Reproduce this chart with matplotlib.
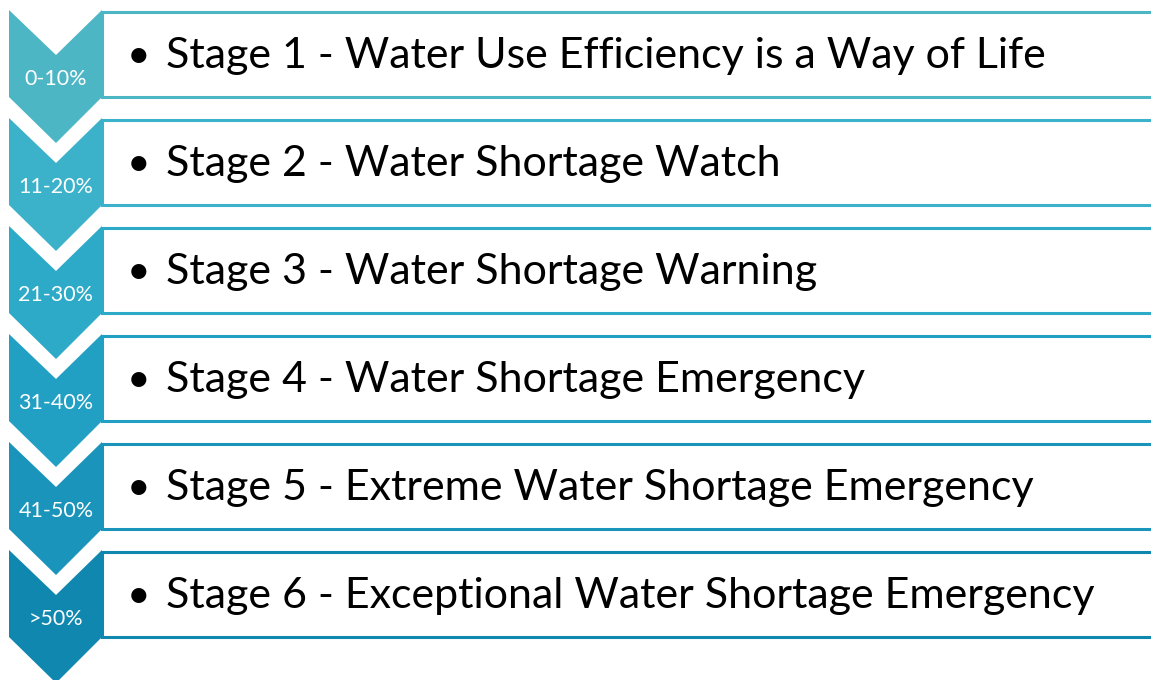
import matplotlib
matplotlib.use("Agg")
import matplotlib.pyplot as plt
from matplotlib.patches import Polygon, Rectangle

ranges = ["0-10%", "11-20%", "21-30%", "31-40%", "41-50%", ">50%"]
stages = [
    "Stage 1 - Water Use Efficiency is a Way of Life",
    "Stage 2 - Water Shortage Watch",
    "Stage 3 - Water Shortage Warning",
    "Stage 4 - Water Shortage Emergency",
    "Stage 5 - Extreme Water Shortage Emergency",
    "Stage 6 - Exceptional Water Shortage Emergency",
]
colors = ["#4DB6C5", "#3BB2C9", "#2DAAC7", "#22A0C3", "#1A94BB", "#0F87AF"]

W, H = 1151, 680
fig = plt.figure(figsize=(W / 100, H / 100), dpi=100)
ax = fig.add_axes([0, 0, 1, 1])
ax.set_xlim(0, W)
ax.set_ylim(H, 0)
ax.axis("off")

FONT = "Lato"
pitch = 108
xl, xm, xr = 9, 56, 102

# fit main text size to target widths (first and last lines)
targets = {0: 874, 5: 939}
ratios = []
for k, tw in targets.items():
    probe = ax.text(0, 0, stages[k], fontsize=30, family=FONT)
    fig.canvas.draw()
    ratios.append(tw / probe.get_window_extent().width)
    probe.remove()
main_fs = 30 * sum(ratios) / len(ratios)

for i in range(len(ranges)):
    t = 10 + pitch * i
    c = colors[i]
    ax.add_patch(Rectangle((xr, t + 2), W, 85, facecolor="white",
                           edgecolor=c, linewidth=2.2, zorder=1))
    pts = [(xl, t), (xm, t + 45), (xr, t), (xr, t + 87), (xm, t + 133), (xl, t + 87)]
    ax.add_patch(Polygon(pts, closed=True, facecolor=c, edgecolor="none", zorder=2))
    ax.text(xm, t + 75, ranges[i], color="white", fontsize=15.5, family=FONT,
            ha="center", va="baseline", zorder=3)
    ax.text(139, t + 58, "\u2022", color="black", fontsize=main_fs * 0.95, family=FONT,
            ha="center", va="baseline", zorder=3)
    ax.text(166, t + 58, stages[i], color="black", fontsize=main_fs, family=FONT,
            ha="left", va="baseline", zorder=3)

fig.savefig("out.png", dpi=100)
